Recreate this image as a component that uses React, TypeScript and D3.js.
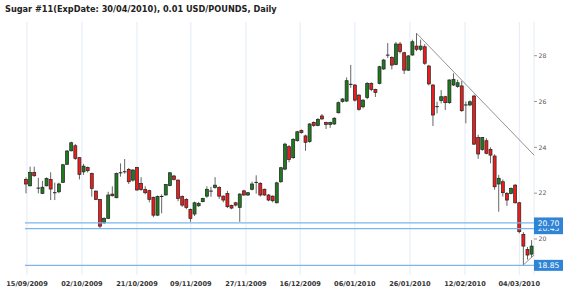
import React from "react";
import * as d3 from "d3";

const title = "Sugar #11(ExpDate: 30/04/2010), 0.01 USD/POUNDS, Daily";

const opens = [22.60,22.32,22.91,22.24,21.99,22.32,22.60,22.03,22.06,22.47,23.26,23.85,24.07,23.55,22.93,23.12,22.86,22.09,21.73,20.71,20.90,21.96,21.80,22.90,22.94,23.04,22.57,23.12,22.43,22.16,22.11,21.82,21.04,21.86,21.92,22.33,22.75,22.57,21.85,21.73,21.29,21.09,21.45,21.63,21.87,22.10,22.25,22.25,21.87,21.99,21.46,21.58,21.38,22.10,21.92,22.17,22.48,22.43,22.17,21.92,21.87,21.58,22.50,23.05,24.03,23.55,24.29,24.73,24.50,24.25,25.09,24.95,25.37,25.08,25.00,25.02,25.51,26.00,26.02,26.76,26.72,26.28,25.77,26.17,26.79,26.53,26.79,27.42,28.03,27.93,27.62,28.51,28.13,27.37,28.03,28.42,28.28,28.39,27.55,26.72,25.75,26.04,26.21,25.95,26.72,26.65,26.68,25.86,25.85,26.24,24.43,23.91,24.29,23.91,23.62,22.40,22.50,21.99,21.99,22.35,21.58,20.20,19.54,19.34];
const highs = [22.69,23.16,23.16,22.67,22.54,22.69,22.91,22.46,22.46,23.28,23.88,24.25,24.15,23.57,23.28,23.16,22.90,22.12,21.75,20.95,22.06,22.30,22.90,23.30,23.49,23.10,23.05,23.15,22.70,22.30,22.15,21.85,21.90,21.95,22.40,22.92,22.80,22.60,21.90,21.78,21.33,21.63,21.62,21.80,22.30,22.28,22.70,22.30,21.90,22.10,21.50,21.62,22.00,22.15,22.05,22.50,22.78,22.48,22.20,21.96,21.90,22.50,23.15,24.20,24.10,24.40,24.72,24.78,24.55,25.06,25.13,25.28,25.45,25.12,25.12,25.32,26.00,26.15,27.05,27.60,26.76,26.32,26.10,26.85,26.84,26.56,27.56,27.86,28.55,27.97,28.60,28.60,28.17,28.03,28.70,28.98,28.70,28.50,27.60,26.76,25.99,26.50,26.25,26.97,27.23,26.95,26.90,26.00,26.05,26.30,24.55,24.45,24.40,24.00,23.70,22.80,22.60,22.05,22.25,22.40,21.62,20.30,19.65,19.95];
const lows = [21.99,22.30,22.72,21.99,21.96,22.30,21.70,21.70,22.00,22.45,23.24,23.82,23.45,22.60,22.80,22.90,21.85,21.70,20.46,20.65,20.88,21.85,21.78,22.72,22.85,22.40,22.50,22.10,22.10,21.95,21.60,20.95,21.00,21.12,21.90,22.30,22.55,21.65,21.40,21.30,20.75,21.00,21.40,21.60,21.80,21.84,22.20,21.75,21.60,21.35,21.30,21.42,20.75,21.88,21.88,22.12,21.98,21.85,21.88,21.65,21.60,21.55,22.45,23.00,23.35,23.50,24.25,24.60,23.85,24.20,24.90,24.92,25.20,24.80,24.85,24.98,25.48,25.95,25.98,26.60,26.00,25.60,25.70,26.10,26.45,26.20,26.75,27.38,27.90,27.40,27.58,28.10,27.20,27.33,28.00,28.20,28.20,27.60,26.70,24.93,25.48,25.92,25.63,25.90,26.68,26.60,25.55,25.05,25.80,24.10,23.50,23.85,23.70,23.30,22.15,21.19,21.85,21.45,21.95,21.55,20.25,18.85,19.10,19.20];
const closes = [22.40,22.91,22.76,22.20,22.26,22.64,22.18,22.01,22.40,23.24,23.84,24.20,23.52,22.82,23.18,22.98,22.21,21.73,20.56,20.90,21.92,21.89,22.86,22.88,22.93,22.50,23.01,22.14,22.16,22.02,21.73,21.04,21.85,21.85,22.38,22.89,22.60,21.77,21.48,21.38,20.90,21.58,21.55,21.77,22.17,22.08,22.35,21.87,21.70,21.41,21.35,21.48,21.96,21.92,22.02,22.40,22.46,21.92,21.92,21.70,21.67,22.45,23.11,24.14,23.47,24.35,24.68,24.64,24.22,25.02,24.95,25.22,25.24,25.00,25.08,25.27,25.95,26.11,26.91,26.74,26.06,25.66,26.06,26.79,26.53,26.39,27.52,27.81,28.02,27.59,28.51,28.18,27.37,27.99,28.61,28.28,28.42,27.67,26.77,25.41,25.80,26.21,25.95,26.94,26.97,26.82,25.60,25.84,25.99,24.14,23.71,24.43,23.74,23.66,22.28,22.65,22.02,21.70,22.21,21.58,20.32,19.69,19.30,19.69];

const dateTicks = [0.24, 13.6, 27.0, 40.1, 53.5, 66.7, 80.0, 93.4, 106.8, 120.0];
const dateLabels = ["15/09/2009","02/10/2009","21/10/2009","09/11/2009","27/11/2009","16/12/2009","06/01/2010","26/01/2010","12/02/2010","04/03/2010"];
const priceTicks = [20, 22, 24, 26, 28];

// horizontal levels (drawn in order; later on top)
const levels = [18.85, 20.45, 20.70];
// trend lines: [startIndex, startValue, endIndex, endValue]
const trendStartIdx = [95, 121];
const trendStartVal = [28.98, 18.87];
const trendEndIdx = [123.6, 123.6];
const trendEndVal = [23.66, 19.30];

const W = 570, H = 296;
const plotLeft = 25, plotRight = 534, plotTop = 22, plotBottom = 275;

export default function App() {
  const x = d3.scaleLinear().domain([0, 123]).range([26, 531.6]);
  const y = d3.scaleLinear().domain([20, 28]).range([239, 55.7]);
  const bw = 3;
  const font = "'DejaVu Sans', Verdana, sans-serif";
  return (
    <div style={{ position: "fixed", left: 0, top: 0 }}>
      <svg width={W} height={H} style={{ display: "block", background: "#fff" }}>
        <text x={5} y={12.3} fontFamily={font} fontWeight="bold" fontSize={8.2} fill="#222">{title}</text>
        {dateTicks.map((t, i) => (
          <g key={"g" + i}>
            <line x1={x(t)} x2={x(t)} y1={plotTop} y2={plotBottom} stroke="#e3ecf6" strokeWidth={1} />
            <text x={x(t)} y={286} textAnchor="middle" fontFamily={font} fontWeight="bold" fontSize={6.6} fill="#333">{dateLabels[i]}</text>
          </g>
        ))}
        <line x1={plotRight} x2={plotRight} y1={plotTop} y2={plotBottom} stroke="#e3ecf6" />
        {priceTicks.map((p) => (
          <g key={"p" + p}>
            <line x1={plotRight} x2={plotRight + 3} y1={y(p)} y2={y(p)} stroke="#999" />
            <text x={plotRight + 4.5} y={y(p) + 2.2} fontFamily={font} fontSize={6.2} fill="#555">{p}</text>
          </g>
        ))}
        {opens.map((o, i) => {
          const c = closes[i];
          const up = c >= o;
          const top = y(Math.max(o, c));
          const bot = y(Math.min(o, c));
          const cx = x(i);
          return (
            <g key={"c" + i}>
              <line x1={cx} x2={cx} y1={y(highs[i])} y2={y(lows[i])} stroke="#555" strokeWidth={0.9} />
              {bot - top < 1.2 ? (
                <line x1={cx - bw / 2 - 0.3} x2={cx + bw / 2 + 0.3} y1={(top + bot) / 2} y2={(top + bot) / 2} stroke="#222" strokeWidth={1} />
              ) : (
                <rect x={cx - bw / 2} y={top} width={bw} height={bot - top} fill={up ? "#1e7a1e" : "#ee1c1c"} stroke="#222" strokeWidth={0.7} />
              )}
            </g>
          );
        })}
        {trendStartIdx.map((s, i) => (
          <line key={"t" + i} x1={x(s)} y1={y(trendStartVal[i])} x2={x(trendEndIdx[i])} y2={y(trendEndVal[i])} stroke="#777" strokeWidth={0.8} />
        ))}
        {levels.map((l) => (
          <g key={"l" + l}>
            <line x1={plotLeft} x2={plotRight} y1={y(l)} y2={y(l)} stroke="#7db6ea" strokeWidth={1.2} />
            <rect x={plotRight} y={y(l) - 5.5} width={29} height={11} fill="#2f84d6" />
            <text x={plotRight + 14.5} y={y(l) + 2.8} textAnchor="middle" fontFamily={font} fontSize={7.6} fill="#fff">{l.toFixed(2)}</text>
          </g>
        ))}
      </svg>
    </div>
  );
}
